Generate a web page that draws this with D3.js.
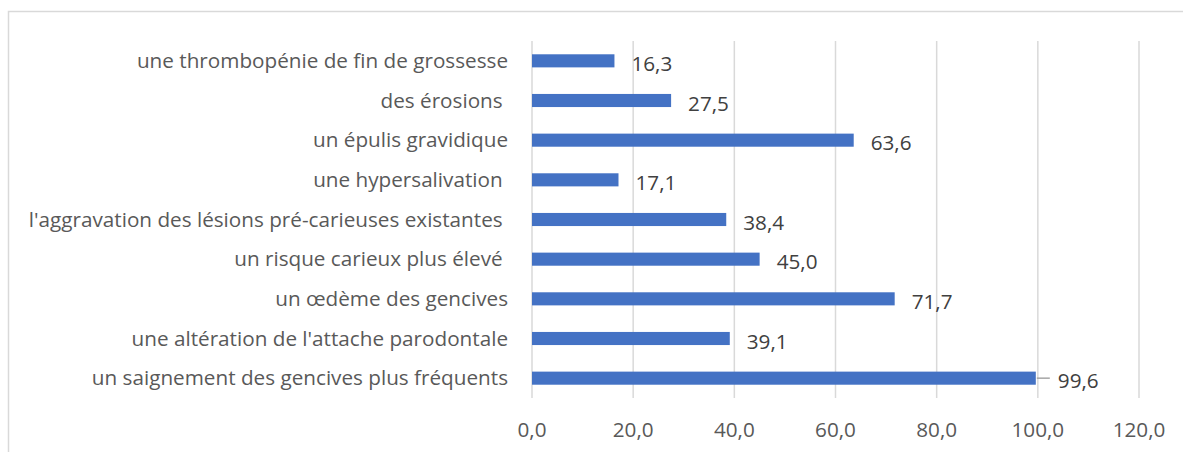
<!DOCTYPE html>
<html>
<head>
<meta charset="utf-8">
<script src="https://cdn.jsdelivr.net/npm/d3@7"></script>
<style>
  body { margin: 0; background: #fff; }
  text { font-family: "Open Sans", sans-serif; }
</style>
</head>
<body>
<div id="chart"></div>
<script>
// categories, top to bottom
var categories = [
  "une thrombopénie de fin de grossesse",
  "des érosions ",
  "un épulis gravidique",
  "une hypersalivation ",
  "l'aggravation des lésions pré-carieuses existantes ",
  "un risque carieux plus élevé ",
  "un œdème des gencives",
  "une altération de l'attache parodontale",
  "un saignement des gencives plus fréquents"
];
var values = [16.3, 27.5, 63.6, 17.1, 38.4, 45.0, 71.7, 39.1, 99.6];
var tickValues = [0, 20, 40, 60, 80, 100, 120];

var W = 1183, H = 452;
var margin = {top: 41, right: 44, bottom: 54, left: 532};
var width = W - margin.left - margin.right,
    height = H - margin.top - margin.bottom;
var fontSize = 20.7;

var fmt = function(v) { return v.toFixed(1).replace(".", ","); };

var svg = d3.select("#chart").append("svg")
    .attr("width", W)
    .attr("height", H);

// outer frame
svg.append("rect")
    .attr("x", 8.5).attr("y", 11.5)
    .attr("width", W).attr("height", H)
    .attr("fill", "none")
    .attr("stroke", "#d9d9d9")
    .attr("stroke-width", 1.5);

var g = svg.append("g")
    .attr("transform", "translate(" + margin.left + "," + margin.top + ")");

var x = d3.scaleLinear().domain([0, 120]).range([0, 607]);
var y = d3.scaleBand().domain(categories).range([0, height]).paddingInner(0.67).paddingOuter(0.335);

// gridlines
g.append("g")
  .selectAll("line")
  .data(tickValues)
  .enter().append("line")
    .attr("x1", function(d) { return x(d); })
    .attr("x2", function(d) { return x(d); })
    .attr("y1", 0)
    .attr("y2", height)
    .attr("stroke", "#d9d9d9")
    .attr("stroke-width", 1.5);

// x tick labels
g.append("g")
  .selectAll("text")
  .data(tickValues)
  .enter().append("text")
    .attr("x", function(d) { return x(d); })
    .attr("y", height + 39)
    .attr("text-anchor", "middle")
    .attr("font-size", fontSize)
    .attr("fill", "#595959")
    .text(fmt);

// category labels
g.append("g")
  .selectAll("text")
  .data(categories)
  .enter().append("text")
    .attr("x", -24)
    .attr("y", function(d) { return y(d) + y.bandwidth() / 2; })
    .attr("dy", "0.35em")
    .attr("text-anchor", "end")
    .attr("font-size", fontSize)
    .attr("fill", "#595959")
    .style("white-space", "pre")
    .text(function(d) { return d; });

// bars
g.append("g")
  .selectAll("rect")
  .data(values)
  .enter().append("rect")
    .attr("x", x(0))
    .attr("y", function(d, i) { return y(categories[i]); })
    .attr("width", function(d) { return x(d) - x(0); })
    .attr("height", y.bandwidth())
    .attr("fill", "#4472c4");

// leader line for the long bar
var maxI = values.indexOf(d3.max(values));
g.append("line")
    .attr("x1", x(values[maxI]) + 1)
    .attr("x2", x(values[maxI]) + 14)
    .attr("y1", y(categories[maxI]) + y.bandwidth() / 2)
    .attr("y2", y(categories[maxI]) + y.bandwidth() / 2)
    .attr("stroke", "#a6a6a6")
    .attr("stroke-width", 1.5);

// data labels
g.append("g")
  .selectAll("text")
  .data(values)
  .enter().append("text")
    .attr("x", function(d, i) { return x(d) + (i === maxI ? 22 : 17); })
    .attr("y", function(d, i) { return y(categories[i]) + y.bandwidth() / 2 + 3; })
    .attr("dy", "0.35em")
    .attr("font-size", fontSize)
    .attr("fill", "#404040")
    .text(fmt);
</script>
</body>
</html>
